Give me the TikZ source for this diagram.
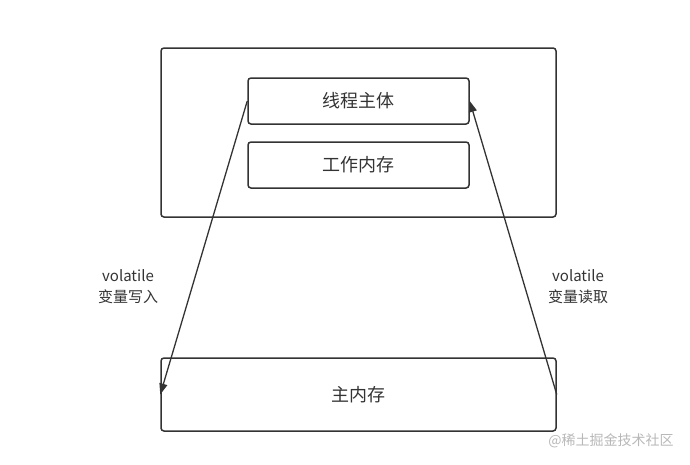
\documentclass[tikz,border=0pt]{standalone}
\usepackage{fontspec}
\setmainfont{Noto Sans CJK SC}
\usetikzlibrary{arrows.meta}

\definecolor{linegray}{HTML}{333333}
\definecolor{marktext}{HTML}{B8B8B8}

\tikzset{
  box/.style={draw=linegray, line width=1.5pt, rounded corners=3pt, inner sep=0pt,
    text=linegray, font=\fontsize{18}{22}\selectfont},
  flow/.style={draw=linegray, line width=1.3pt, -{Triangle[length=11pt,width=8pt]}},
  note/.style={align=center, text=linegray, font=\fontsize{15}{21}\selectfont}
}

\begin{document}
\begin{tikzpicture}[x=1pt,y=-1pt]
    \useasboundingbox (0,0) rectangle (690,464);
    % Thread box
    \node [box, minimum width=395pt, minimum height=169pt] (thread) at (358.5,132.5) {};
    \node [box, minimum width=221pt, minimum height=46pt] (body) at (358.5,101) {线程主体};
    \node [box, minimum width=221pt, minimum height=46pt] (work) at (358.5,165) {工作内存};
    % Main memory
    \node [box, minimum width=395pt, minimum height=73pt] (main) at (358.5,394.5) {主内存};
    % Write and read
    \draw [flow] (body.west) -- (main.west);
    \draw [flow] (main.east) -- (body.east);
    \node [note] (write) at (128,287) {volatile\\变量写入};
    \node [note] (read) at (578,287) {volatile\\变量读取};
    % Watermark
    \node [text=marktext, font=\fontsize{14}{16}\selectfont] (mark) at (611,441) {@稀土掘金技术社区};
\end{tikzpicture}
\end{document}
